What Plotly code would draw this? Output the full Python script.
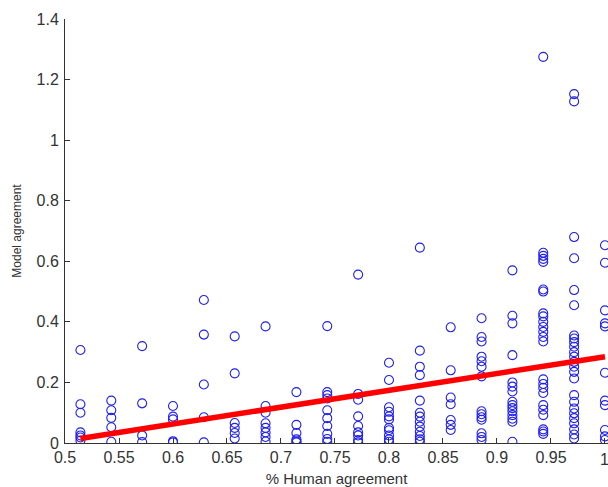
import plotly.graph_objects as go

# Human agreement levels (k/35) and model agreement values per level
human_levels = [18/35, 19/35, 20/35, 21/35, 22/35, 23/35, 24/35, 25/35, 26/35,
                27/35, 28/35, 29/35, 30/35, 31/35, 32/35, 33/35, 34/35, 35/35]

model_values = [
    [0.307, 0.128, 0.10, 0.035, 0.025, 0.018, 0.008],
    [0.14, 0.108, 0.083, 0.052, 0.004],
    [0.32, 0.131, 0.025, 0.003],
    [0.122, 0.087, 0.078, 0.006, 0.002],
    [0.472, 0.358, 0.193, 0.085, 0.002],
    [0.352, 0.23, 0.066, 0.05, 0.033, 0.015],
    [0.385, 0.122, 0.10, 0.065, 0.05, 0.035, 0.02, 0.005],
    [0.168, 0.06, 0.033, 0.012, 0.006, 0.002],
    [0.386, 0.168, 0.158, 0.147, 0.108, 0.082, 0.056, 0.03, 0.013, 0.004],
    [0.556, 0.162, 0.143, 0.088, 0.056, 0.035, 0.025, 0.01, 0.002],
    [0.265, 0.208, 0.118, 0.103, 0.088, 0.078, 0.05, 0.042, 0.025, 0.012, 0.004],
    [0.645, 0.305, 0.252, 0.224, 0.14, 0.10, 0.087, 0.07, 0.054, 0.037, 0.023, 0.012, 0.004],
    [0.382, 0.24, 0.15, 0.128, 0.076, 0.06, 0.043],
    [0.412, 0.35, 0.335, 0.285, 0.27, 0.252, 0.22, 0.105, 0.095, 0.085, 0.077, 0.032, 0.02, 0.01],
    [0.57, 0.42, 0.395, 0.29, 0.2, 0.186, 0.17, 0.136, 0.125, 0.115, 0.105, 0.092, 0.08, 0.07, 0.004],
    [1.275, 0.628, 0.618, 0.608, 0.598, 0.507, 0.5, 0.428, 0.418, 0.40, 0.383, 0.367, 0.35,
     0.335, 0.21, 0.195, 0.182, 0.165, 0.125, 0.11, 0.092, 0.045, 0.038, 0.03],
    [1.152, 1.128, 0.68, 0.61, 0.505, 0.455, 0.355, 0.345, 0.333, 0.318, 0.3, 0.285, 0.268,
     0.252, 0.235, 0.213, 0.158, 0.136, 0.114, 0.098, 0.082, 0.065, 0.045, 0.028, 0.015],
    [0.653, 0.595, 0.438, 0.395, 0.385, 0.232, 0.14, 0.125, 0.043, 0.022, 0.01],
]

# Regression line endpoints
fit_x = [18/35, 1.0]
fit_y = [0.015, 0.285]

x_ticks = [0.5, 0.55, 0.6, 0.65, 0.7, 0.75, 0.8, 0.85, 0.9, 0.95, 1.0]
x_tick_labels = ["0.5", "0.55", "0.6", "0.65", "0.7", "0.75", "0.8", "0.85", "0.9", "0.95", "1"]
y_ticks = [0, 0.2, 0.4, 0.6, 0.8, 1.0, 1.2, 1.4]
y_tick_labels = ["0", "0.2", "0.4", "0.6", "0.8", "1", "1.2", "1.4"]

xs, ys = [], []
for h, vals in zip(human_levels, model_values):
    for v in vals:
        xs.append(h)
        ys.append(v)

fig = go.Figure()
fig.add_trace(go.Scatter(
    x=xs, y=ys, mode="markers", cliponaxis=True,
    marker=dict(symbol="circle-open", size=9, color="#2020ee", line=dict(width=1.1, color="#2020ee")),
    showlegend=False, hoverinfo="skip",
))
fig.add_trace(go.Scatter(
    x=fit_x, y=fit_y, mode="lines",
    line=dict(color="#ff0000", width=5.5),
    showlegend=False, hoverinfo="skip",
))

font_family = "Liberation Sans, Arial, sans-serif"
tick_color = "#333333"

# Last x tick label sits on the figure edge; Plotly drops it, so place it explicitly
fig.add_annotation(
    x=x_ticks[-1], y=0, xref="x", yref="paper", text=x_tick_labels[-1],
    showarrow=False, yanchor="top", xanchor="center", yshift=-6,
    font=dict(family=font_family, size=16, color=tick_color),
)

fig.update_layout(
    width=608, height=487,
    margin=dict(l=65, r=0, t=19, b=44, autoexpand=False),
    paper_bgcolor="white", plot_bgcolor="white",
    font=dict(family=font_family, size=14, color=tick_color),
    xaxis=dict(
        range=[0.5, 1.0028], tickvals=x_ticks, ticktext=x_tick_labels,
        ticks="inside", ticklen=5, tickcolor=tick_color, showgrid=False, zeroline=False,
        showline=True, linecolor=tick_color, linewidth=1, automargin=False,
        title=dict(text="% Human agreement", font=dict(size=15), standoff=8),
        tickfont=dict(size=16), ticklabelstandoff=0,
    ),
    yaxis=dict(
        range=[0, 1.4], tickvals=y_ticks, ticktext=y_tick_labels,
        ticks="inside", ticklen=5, tickcolor=tick_color, showgrid=False, zeroline=False,
        showline=True, linecolor=tick_color, linewidth=1, automargin=False,
        title=dict(text="Model agreement", font=dict(size=12), standoff=12),
        tickfont=dict(size=16), ticklabelstandoff=2,
    ),
)

fig.write_html(
    "out.html",
    config={"displayModeBar": False},
    post_script="document.body.style.margin='0';document.body.style.overflow='hidden';",
)
